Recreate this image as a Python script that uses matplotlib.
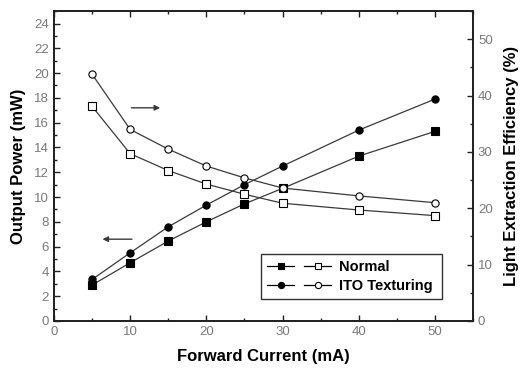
import matplotlib
matplotlib.use("Agg")
import matplotlib.pyplot as plt
from matplotlib.legend_handler import HandlerTuple
from matplotlib.lines import Line2D
from matplotlib.ticker import MultipleLocator

plt.rcParams["font.family"] = ["Liberation Sans", "DejaVu Sans"]

# ---------------------------------------------------------------------------
# Data
# ---------------------------------------------------------------------------
current = [5, 10, 15, 20, 25, 30, 40, 50]

power_normal = [2.9, 4.7, 6.45, 8.0, 9.45, 10.7, 13.3, 15.3]
power_ito    = [3.35, 5.5, 7.6, 9.35, 11.0, 12.5, 15.4, 17.9]

lee_normal = [38.1, 29.7, 26.7, 24.3, 22.5, 20.9, 19.7, 18.7]
lee_ito    = [43.8, 34.0, 30.5, 27.5, 25.4, 23.6, 22.2, 21.0]

legend_labels = ["Normal", "ITO Texturing"]

# ---------------------------------------------------------------------------
# Plot
# ---------------------------------------------------------------------------
LINE = "#3a3a3a"
TICK = "#7a7a7a"

fig = plt.figure(figsize=(5.21, 3.71), dpi=100)
ax = fig.add_axes([0.1036, 0.1348, 0.8044, 0.8352])
ax2 = ax.twinx()

kw = dict(color=LINE, lw=0.9, ms=5.2, mec="black", mew=0.8)
ax.plot(current, power_normal, marker="s", mfc="black", **kw)
ax.plot(current, power_ito, marker="o", mfc="black", **kw)
ax2.plot(current, lee_normal, marker="s", mfc="white", **kw)
ax2.plot(current, lee_ito, marker="o", mfc="white", **kw)

ax.set_xlim(0, 55)
ax.set_ylim(0, 25)
ax2.set_ylim(0, 55)

ax.xaxis.set_major_locator(MultipleLocator(10))
ax.xaxis.set_minor_locator(MultipleLocator(5))
ax.yaxis.set_major_locator(MultipleLocator(2))
ax.yaxis.set_minor_locator(MultipleLocator(1))
ax2.yaxis.set_major_locator(MultipleLocator(10))
ax2.yaxis.set_minor_locator(MultipleLocator(5))

for a in (ax, ax2):
    a.tick_params(which="both", direction="in", colors="#222222",
                  labelcolor=TICK, labelsize=9.5, width=1)
    a.tick_params(which="major", length=4)
    a.tick_params(which="minor", length=2)
    for s in a.spines.values():
        s.set_linewidth(1.3)
        s.set_color("#222222")
ax.tick_params(which="both", top=True)

ax.set_xlabel("Forward Current (mA)", fontsize=12, fontweight="bold", labelpad=8)
ax.set_ylabel("Output Power (mW)", fontsize=12, fontweight="bold", labelpad=6)
ax2.set_ylabel("Light Extraction Efficiency (%)", fontsize=12,
               fontweight="bold", labelpad=8)

# arrows pointing to the axis of each series group
ax.annotate("", xy=(14.3, 17.2), xytext=(9.8, 17.2),
            arrowprops=dict(arrowstyle="-|>", color=LINE, lw=1,
                            mutation_scale=8))
ax.annotate("", xy=(6.0, 6.6), xytext=(10.6, 6.6),
            arrowprops=dict(arrowstyle="-|>", color=LINE, lw=1,
                            mutation_scale=8))

# legend: filled + open markers per sample
lkw = dict(color="black", lw=0.9, ms=4.5, mec="black", mew=0.8)
h_normal = (Line2D([], [], marker="s", mfc="black", **lkw),
            Line2D([], [], marker="s", mfc="white", **lkw))
h_ito = (Line2D([], [], marker="o", mfc="black", **lkw),
         Line2D([], [], marker="o", mfc="white", **lkw))
leg = ax2.legend([h_normal, h_ito], legend_labels,
                 handler_map={tuple: HandlerTuple(ndivide=None, pad=0.7)},
                 loc="lower left", bbox_to_anchor=(0.495, 0.072, 0.43, 0.147),
                 mode="expand", handlelength=4.4, handletextpad=0.5,
                 borderaxespad=0, fancybox=False, frameon=True,
                 prop=dict(weight="bold", size=10.5),
                 labelspacing=0.35, borderpad=0.4)
leg.get_frame().set_edgecolor("black")
leg.get_frame().set_linewidth(1)

fig.savefig("out.png", dpi=100)
